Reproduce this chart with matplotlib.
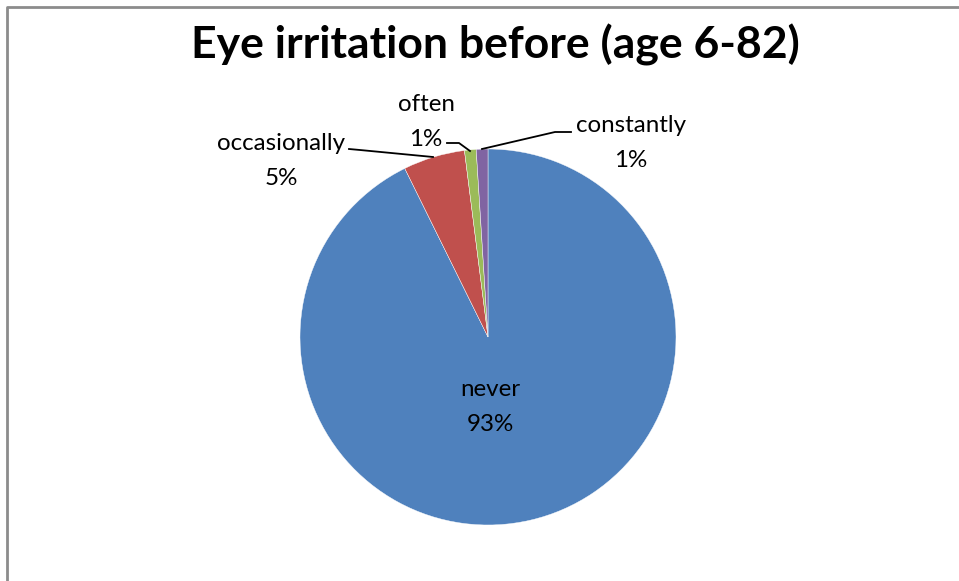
import matplotlib.pyplot as plt
from matplotlib.lines import Line2D

# data (share of answers, %)
categories = ['never', 'occasionally', 'often', 'constantly']
shares = [92.7, 5.3, 1.0, 1.0]
colors = ['#4F81BD', '#C0504D', '#9BBB59', '#8064A2']

W, H = 959, 581
plt.rcParams['font.family'] = ['Lato', 'DejaVu Sans']

fig = plt.figure(figsize=(W / 100, H / 100), dpi=100)
# axes in pixel units, y going up
ax = fig.add_axes([0, 0, 1, 1])

# chart frame (only top and left edges visible)
fig.lines.append(Line2D([7 / W, 7 / W, 1.0], [0.0, 1 - 7 / H, 1 - 7 / H], transform=fig.transFigure,
                        color='#8c8c8c', linewidth=2))

ax.pie(shares, colors=colors, startangle=90, counterclock=False,
       center=(488, H - 337), radius=188,
       wedgeprops=dict(edgecolor='white', linewidth=0.3))
ax.set_xlim(0, W)
ax.set_ylim(0, H)
ax.set_aspect('equal')
ax.axis('off')

labels = [f'{c}\n{round(s)}%' for c, s in zip(categories, shares)]
label_pos = [(490, 407), (281, 161), (426, 122), (631, 143)]
for lab, (x, y) in zip(labels, label_pos):
    ax.text(x, H - y, lab, ha='center', va='center', fontsize=17.4, linespacing=1.82)

# leader lines
leaders = [
    [(349, 149), (360, 150), (433, 157)],
    [(447, 143), (459, 143), (470, 151)],
    [(571, 132), (555, 132), (482, 149)],
]
for pts in leaders:
    ax.plot([p[0] for p in pts], [H - p[1] for p in pts], color='black', lw=1.3)

fig.text(495 / W, 1 - 45 / H, 'Eye irritation before (age 6-82)', ha='center', va='center',
         fontsize=32, fontweight='bold')

fig.savefig('out.png', dpi=100)
